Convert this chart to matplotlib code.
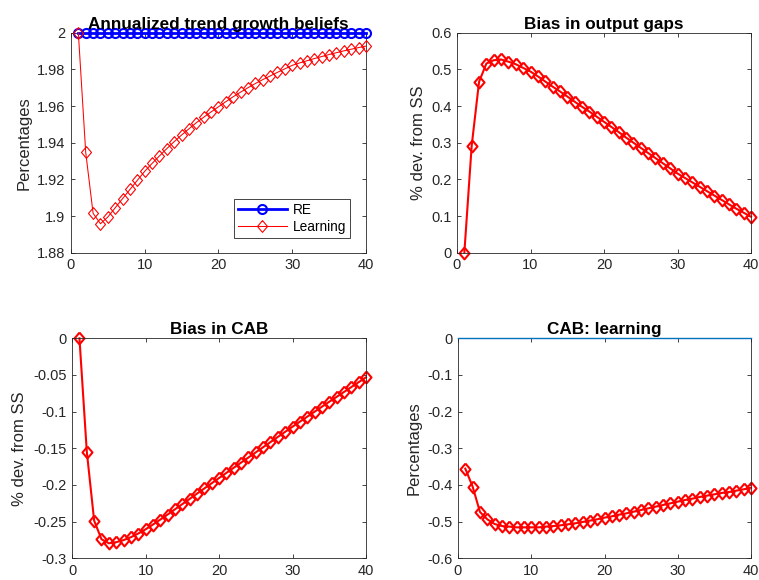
import matplotlib
matplotlib.use("Agg")
import matplotlib.pyplot as plt

plt.rcParams['font.family'] = ['Liberation Sans', 'DejaVu Sans']
plt.rcParams['axes.unicode_minus'] = False

# periods
periods = list(range(1, 41))

# annualized trend growth beliefs
re_beliefs = [2.0] * 40
learning_beliefs = [2.0, 1.9347, 1.9015, 1.8958, 1.8995, 1.9045, 1.9095, 1.9145, 1.9195, 1.9244,
                    1.9287, 1.9328, 1.9368, 1.9406, 1.9442, 1.9476, 1.9509, 1.9539, 1.9568, 1.9596,
                    1.9624, 1.9651, 1.9676, 1.9700, 1.9723, 1.9744, 1.9764, 1.9784, 1.9803, 1.9822,
                    1.9835, 1.9847, 1.9859, 1.9870, 1.9881, 1.9891, 1.9901, 1.9910, 1.9919, 1.9927]

# bias in output gaps
output_gap_bias = [0.0, 0.292, 0.466, 0.516, 0.525, 0.527, 0.521, 0.514, 0.504, 0.494,
                   0.481, 0.467, 0.453, 0.440, 0.426, 0.412, 0.398, 0.385, 0.371, 0.357,
                   0.343, 0.329, 0.314, 0.300, 0.286, 0.272, 0.258, 0.244, 0.230, 0.216,
                   0.204, 0.192, 0.180, 0.168, 0.156, 0.144, 0.132, 0.120, 0.109, 0.098]

# bias in CAB
cab_bias = [0.0, -0.1545, -0.2486, -0.2740, -0.2795, -0.2780, -0.2752, -0.2712, -0.2662, -0.2605,
            -0.2540, -0.2472, -0.2403, -0.2332, -0.2261, -0.2190, -0.2118, -0.2047, -0.1976, -0.1905,
            -0.1835, -0.1765, -0.1695, -0.1625, -0.1555, -0.1485, -0.1415, -0.1345, -0.1275, -0.1205,
            -0.1137, -0.1069, -0.1001, -0.0933, -0.0865, -0.0799, -0.0732, -0.0665, -0.0598, -0.0532]

# CAB under learning
cab_learning = [-0.3555, -0.4045, -0.4736, -0.4936, -0.5064, -0.5120, -0.5136, -0.5155, -0.5155, -0.5155,
                -0.5155, -0.5136, -0.5120, -0.5100, -0.5073, -0.5045, -0.5009, -0.4973, -0.4936, -0.4891,
                -0.4855, -0.4810, -0.4773, -0.4727, -0.4682, -0.4636, -0.4591, -0.4545, -0.4500, -0.4455,
                -0.4409, -0.4373, -0.4327, -0.4291, -0.4255, -0.4218, -0.4191, -0.4155, -0.4118, -0.4073]
zero_x = [0, 40]
zero_y = [0, 0]

# matlab-like diamond marker
diamond = [(0, 1), (0.85, 0), (0, -1), (-0.85, 0), (0, 1)]
DARK = (0.15, 0.15, 0.15)


def style_axes(ax, yticks, ylim, title, ylabel):
    ax.set_xlim(0, 40)
    ax.set_ylim(*ylim)
    ax.set_xticks([0, 10, 20, 30, 40])
    ax.set_yticks(yticks)
    ax.set_yticklabels(['%g' % v for v in yticks])
    ax.tick_params(direction='in', length=3, width=0.6, top=True, right=True,
                   labelsize=10.5, colors=DARK, pad=4)
    for sp in ax.spines.values():
        sp.set_color(DARK)
        sp.set_linewidth(0.6)
    ax.set_title(title, fontsize=12.3, fontweight='bold', pad=3)
    ax.set_ylabel(ylabel, fontsize=12, color=DARK)


fig = plt.figure(figsize=(7.59, 5.80), dpi=100)
ax1 = fig.add_axes([0.0935, 0.5643, 0.3887, 0.3793])
ax2 = fig.add_axes([0.6021, 0.5643, 0.3874, 0.3793])
ax3 = fig.add_axes([0.0950, 0.0374, 0.3872, 0.3793])
ax4 = fig.add_axes([0.6034, 0.0374, 0.3861, 0.3793])

# top left
ax1.plot(periods, re_beliefs, color='b', lw=2, marker='o', ms=6.5, mfc='none',
         mew=1.5, clip_on=False, label='RE', zorder=3)
ax1.plot(periods, learning_beliefs, color='r', lw=0.75, marker=diamond, ms=8.5, mfc='none',
         mew=0.8, clip_on=False, label='Learning', zorder=4)
style_axes(ax1, [1.88, 1.9, 1.92, 1.94, 1.96, 1.98, 2.0], (1.88, 2.0),
           'Annualized trend growth beliefs', 'Percentages')
leg = ax1.legend(loc='lower right', bbox_to_anchor=(0.9465, 0.066), fontsize=9.8,
                 handlelength=3.6, numpoints=1, fancybox=False, framealpha=1,
                 borderpad=0.3, labelspacing=0.25, handletextpad=0.45, borderaxespad=0)
leg.get_frame().set_edgecolor(DARK)
leg.get_frame().set_linewidth(0.6)

# top right
ax2.plot(periods, output_gap_bias, color='r', lw=1.5, marker=diamond, ms=8.5, mfc='none',
         mew=1.5, clip_on=False)
style_axes(ax2, [0, 0.1, 0.2, 0.3, 0.4, 0.5, 0.6], (0, 0.6),
           'Bias in output gaps', '% dev. from SS')

# bottom left
ax3.plot(periods, cab_bias, color='r', lw=1.5, marker=diamond, ms=8.5, mfc='none',
         mew=1.5, clip_on=False)
style_axes(ax3, [-0.3, -0.25, -0.2, -0.15, -0.1, -0.05, 0], (-0.3, 0),
           'Bias in CAB', '% dev. from SS')

# bottom right
ax4.plot(zero_x, zero_y, color=(0, 0.447, 0.741), lw=1, clip_on=False, zorder=5)
ax4.plot(periods, cab_learning, color='r', lw=1.5, marker=diamond, ms=8.5, mfc='none',
         mew=1.5, clip_on=False)
style_axes(ax4, [-0.6, -0.5, -0.4, -0.3, -0.2, -0.1, 0], (-0.6, 0),
           'CAB: learning', 'Percentages')

fig.savefig('out.png', dpi=100)
